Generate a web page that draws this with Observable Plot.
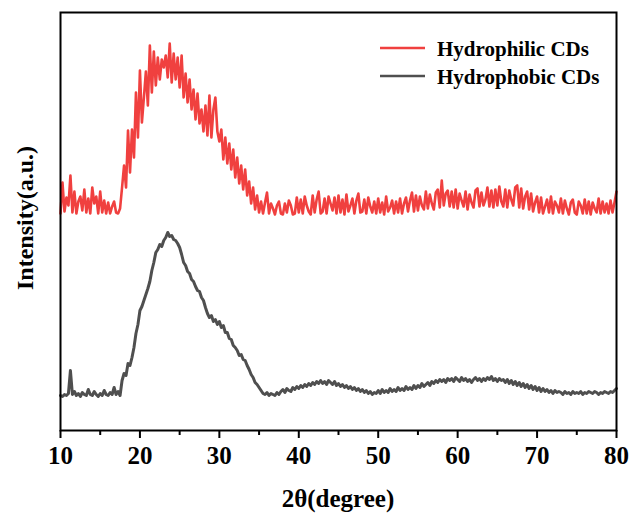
<!DOCTYPE html>
<html>
<head>
<meta charset="utf-8">
<script src="https://cdn.jsdelivr.net/npm/d3@7"></script>
<script src="https://cdn.jsdelivr.net/npm/@observablehq/plot@0.6"></script>
<style>
  html, body { margin: 0; padding: 0; background: #fff; }
  #chart { width: 632px; height: 519px; }
</style>
</head>
<body>
<div id="chart"></div>
<script>
// 2θ sampling grid (degrees), one value every 0.25°
const degrees = d3.range(10, 80.001, 0.25);

const seriesNames = ["Hydrophilic CDs", "Hydrophobic CDs"];
const seriesColors = ["#f0403f", "#4f4f4f"];

const xTicks = [10, 20, 30, 40, 50, 60, 70, 80];
const xMinorTicks = [15, 25, 35, 45, 55, 65, 75];

// Intensity (a.u.), rows = one degree (x.00, x.25, x.50, x.75)
const hydrophilic = [
  214, 245, 216, 230, // 10
  222, 252, 215, 236, // 11
  214, 226, 231, 217, // 12
  238, 215, 229, 214, // 13
  240, 224, 231, 214, // 14
  236, 215, 227, 214, // 15
  225, 214, 221, 226, // 16
  215, 214, 219, 240, // 17
  262, 240, 297, 255, // 18
  298, 270, 335, 290, // 19
  357, 305, 330, 356, // 20
  322, 382, 335, 376, // 21
  342, 370, 348, 368, // 22
  360, 372, 350, 384, // 23
  345, 374, 348, 370, // 24
  340, 372, 330, 354, // 25
  325, 348, 318, 338, // 26
  308, 334, 304, 318, // 27
  296, 322, 292, 332, // 28
  290, 318, 330, 296, // 29
  286, 298, 268, 290, // 30
  264, 284, 258, 278, // 31
  250, 270, 244, 262, // 32
  238, 258, 232, 246, // 33
  224, 240, 218, 232, // 34
  215, 226, 214, 225, // 35
  235, 214, 224, 219, // 36
  213, 222, 226, 214, // 37
  213, 224, 215, 227, // 38
  222, 213, 214, 230, // 39
  215, 228, 214, 231, // 40
  222, 216, 213, 232, // 41
  215, 228, 236, 214, // 42
  216, 229, 214, 231, // 43
  224, 217, 230, 214, // 44
  232, 215, 228, 213, // 45
  233, 216, 222, 229, // 46
  214, 227, 234, 215, // 47
  216, 228, 214, 230, // 48
  221, 215, 226, 214, // 49
  229, 215, 225, 213, // 50
  231, 216, 220, 227, // 51
  214, 226, 215, 229, // 52
  214, 224, 230, 216, // 53
  227, 235, 216, 232, // 54
  217, 231, 222, 218, // 55
  236, 219, 233, 224, // 56
  218, 235, 238, 220, // 57
  247, 222, 234, 237, // 58
  221, 236, 220, 238, // 59
  219, 234, 227, 221, // 60
  236, 218, 233, 225, // 61
  220, 237, 239, 221, // 62
  235, 222, 228, 240, // 63
  221, 237, 220, 238, // 64
  222, 241, 226, 221, // 65
  238, 220, 237, 228, // 66
  222, 240, 242, 220, // 67
  239, 219, 231, 236, // 68
  218, 234, 216, 225, // 69
  231, 215, 230, 214, // 70
  221, 228, 215, 231, // 71
  214, 226, 222, 215, // 72
  229, 214, 227, 219, // 73
  213, 225, 228, 215, // 74
  213, 226, 222, 214, // 75
  228, 214, 226, 213, // 76
  225, 219, 215, 229, // 77
  214, 226, 215, 224, // 78
  214, 227, 215, 225, // 79
  236                 // 80
];

const hydrophobic = [
  32, 31, 33, 32,     // 10
  34, 57, 33, 36,     // 11
  32, 34, 31, 35,     // 12
  33, 32, 38, 33,     // 13
  32, 36, 33, 31,     // 14
  34, 32, 37, 33,     // 15
  32, 35, 33, 40,     // 16
  33, 36, 32, 47,     // 17
  54, 52, 64, 62,     // 18
  70, 80, 94, 103,    // 19
  117, 121, 127, 133, // 20
  139, 146, 157, 165, // 21
  175, 178, 183, 181, // 22
  187, 190, 195, 191, // 23
  192, 188, 187, 184, // 24
  180, 173, 165, 162, // 25
  156, 154, 148, 146, // 26
  141, 137, 136, 130, // 27
  127, 120, 114, 110, // 28
  112, 106, 108, 103, // 29
  106, 100, 102, 95,  // 30
  95, 89, 88, 82,     // 31
  80, 77, 72, 73,     // 32
  68, 67, 62, 58,     // 33
  53, 50, 45, 43,     // 34
  40, 37, 34, 33,     // 35
  35, 32, 34, 33,     // 36
  32, 35, 33, 36,     // 37
  38, 35, 39, 37,     // 38
  36, 40, 38, 41,     // 39
  39, 42, 40, 43,     // 40
  41, 44, 42, 45,     // 41
  43, 46, 44, 47,     // 42
  44, 46, 43, 47,     // 43
  45, 43, 46, 42,     // 44
  44, 41, 43, 40,     // 45
  42, 39, 41, 38,     // 46
  40, 37, 39, 36,     // 47
  38, 35, 37, 34,     // 48
  36, 33, 35, 34,     // 49
  37, 34, 38, 35,     // 50
  37, 35, 39, 36,     // 51
  38, 36, 40, 37,     // 52
  39, 37, 41, 38,     // 53
  40, 38, 42, 39,     // 54
  42, 40, 44, 41,     // 55
  43, 45, 42, 46,     // 56
  44, 47, 45, 48,     // 57
  46, 48, 45, 49,     // 58
  47, 49, 46, 50,     // 59
  48, 46, 50, 47,     // 60
  49, 46, 48, 45,     // 61
  48, 50, 47, 49,     // 62
  46, 49, 47, 50,     // 63
  48, 51, 47, 49,     // 64
  46, 49, 47, 48,     // 65
  45, 48, 44, 47,     // 66
  43, 46, 42, 45,     // 67
  41, 44, 40, 43,     // 68
  39, 42, 38, 41,     // 69
  37, 40, 36, 39,     // 70
  36, 38, 35, 37,     // 71
  34, 37, 35, 36,     // 72
  35, 33, 36, 34,     // 73
  35, 33, 36, 34,     // 74
  35, 34, 36, 33,     // 75
  35, 34, 36, 35,     // 76
  34, 36, 35, 33,     // 77
  35, 34, 36, 35,     // 78
  34, 36, 35, 37,     // 79
  39                  // 80
];

const rows = [];
degrees.forEach((d, i) => {
  rows.push({x: d, y: hydrophilic[i], s: seriesNames[0]});
});
degrees.forEach((d, i) => {
  rows.push({x: d, y: hydrophobic[i], s: seriesNames[1]});
});

const FONT = "'Liberation Serif', 'Times New Roman', serif";

const svg = Plot.plot({
  width: 632,
  height: 519,
  marginLeft: 60,
  marginRight: 16,
  marginTop: 12,
  marginBottom: 89,
  style: {fontFamily: FONT, fontWeight: "bold", fontSize: "25px", color: "#000", background: "#fff"},
  x: {domain: [10, 80]},
  y: {domain: [-3, 415], axis: null},
  color: {domain: seriesNames, range: seriesColors},
  marks: [
    Plot.line(rows.filter(r => r.s === seriesNames[1]), {x: "x", y: "y", stroke: "s", strokeWidth: 3, strokeLinejoin: "round"}),
    Plot.line(rows.filter(r => r.s === seriesNames[0]), {x: "x", y: "y", stroke: "s", strokeWidth: 2.6, strokeLinejoin: "round"}),
    Plot.frame({stroke: "#000", strokeWidth: 2}),
    Plot.axisX({ticks: xMinorTicks, tickSize: 5, tickFormat: () => "", strokeWidth: 2, label: null}),
    Plot.axisX({ticks: xTicks, tickSize: 8, tickPadding: 8, tickFormat: d => String(d), strokeWidth: 2, label: null,
      fontSize: 25, fontWeight: "bold", fontFamily: FONT})
  ]
});

const s = d3.select(svg);
// axis titles
s.append("text")
  .attr("x", 338).attr("y", 507)
  .attr("text-anchor", "middle")
  .style("font", `bold 25px ${FONT}`)
  .attr("fill", "#000")
  .text("2θ(degree)");
s.append("text")
  .attr("transform", "translate(33,218) rotate(-90)")
  .attr("text-anchor", "middle")
  .style("font", `bold 24px ${FONT}`)
  .attr("fill", "#000")
  .text("Intensity(a.u.)");

// legend
const legend = s.append("g").attr("text-anchor", "start");
seriesNames.forEach((name, i) => {
  const yy = 48 + i * 28;
  legend.append("line")
    .attr("x1", 380).attr("x2", 425).attr("y1", yy).attr("y2", yy)
    .attr("stroke", seriesColors[i]).attr("stroke-width", 2.5);
  legend.append("text")
    .attr("x", 437).attr("y", yy + 8)
    .attr("text-anchor", "start")
    .style("font", `bold 21px ${FONT}`)
    .attr("fill", "#000")
    .text(name);
});

document.getElementById("chart").appendChild(svg);
</script>
</body>
</html>
